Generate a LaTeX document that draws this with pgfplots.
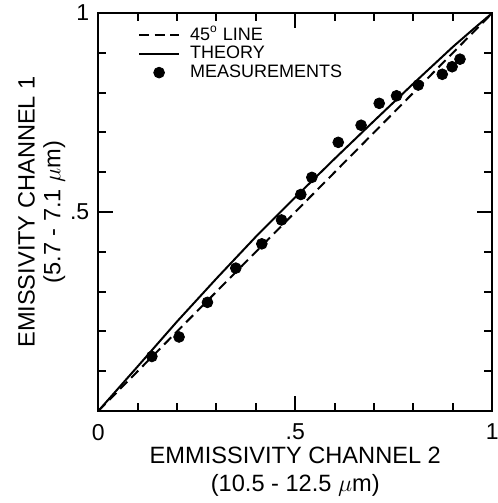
\documentclass[border=0pt]{standalone}
\usepackage{fontspec}
\setmainfont{Liberation Sans}
\usepackage{pgfplots}
\pgfplotsset{compat=1.18}

\begin{document}
\begin{tikzpicture}
\begin{axis}[
  scale only axis,
  width=197pt, height=199pt,
  xmin=0, xmax=1, ymin=0, ymax=1,
  axis line style={line width=1pt},
  xtick={0,0.1,0.2,0.3,0.4,0.5,0.6,0.7,0.8,0.9,1},
  xticklabels={0,,,,,.5,,,,,1},
  ytick={0,0.1,0.2,0.3,0.4,0.5,0.6,0.7,0.8,0.9,1},
  yticklabels={,,,,,.5,,,,,1},
  extra x ticks={0.5}, extra y ticks={0.5},
  extra x tick labels={}, extra y tick labels={},
  extra tick style={major tick length=7.5pt},
  every tick/.style={line width=1pt, black},
  major tick length=4pt,
  tick align=inside,
  tick label style={font=\fontsize{11.5}{13}\selectfont},
  xticklabel style={yshift=-3pt},
  yticklabel style={xshift=-1pt},
  xlabel={EMMISSIVITY CHANNEL 2\\(10.5 - 12.5 $\mu$m)},
  ylabel={EMISSIVITY CHANNEL 1\\(5.7 - 7.1 $\mu$m)},
  xlabel style={font=\fontsize{11.8}{14}\selectfont, align=center,
    at={(axis description cs:0.5,-0.073)}, anchor=north},
  ylabel style={font=\fontsize{11.8}{12.8}\selectfont, align=center,
    at={(axis description cs:-0.066,0.5)}, anchor=south},
  legend style={draw=none, fill=none, at={(axis cs:0.1,0.978)}, anchor=north west,
    font=\fontsize{9}{10}\selectfont, inner sep=0pt, row sep=-2.5pt,
    cells={anchor=west}},
  legend image code/.code={\draw[mark repeat=2,mark phase=2,#1]
    plot coordinates {(0pt,0pt)(10pt,0pt)(20pt,0pt)};},
  clip=false,
]
\addplot[black, line width=1pt, dash pattern=on 5pt off 2.8pt]
  coordinates {(0,0) (1,1)};
\addlegendentry{\hspace{3pt}45\textsuperscript{o} LINE}
\addplot[black, line width=1pt]
  coordinates {(0,0) (0.1,0.112) (0.2,0.225) (0.3,0.333) (0.4,0.438) (0.5,0.537)
    (0.6,0.634) (0.7,0.729) (0.8,0.823) (0.9,0.915) (0.95,0.958) (1,1)};
\addlegendentry{\hspace{3pt}THEORY}
\addplot[only marks, mark=*, mark size=2.7pt, black]
  coordinates {(0.136,0.137) (0.205,0.186) (0.277,0.273) (0.349,0.359)
    (0.415,0.420) (0.465,0.480) (0.514,0.544) (0.542,0.587) (0.609,0.675)
    (0.667,0.718) (0.713,0.773) (0.757,0.792) (0.812,0.819) (0.873,0.846)
    (0.898,0.865) (0.918,0.884)};
\addlegendentry{\hspace{3pt}MEASUREMENTS}
\end{axis}
\pgfresetboundingbox
\path ([shift={(-49.15pt,-46pt)}]current axis.south west)
  rectangle ([shift={(2.6pt,6.5pt)}]current axis.north east);
\end{tikzpicture}
\end{document}
